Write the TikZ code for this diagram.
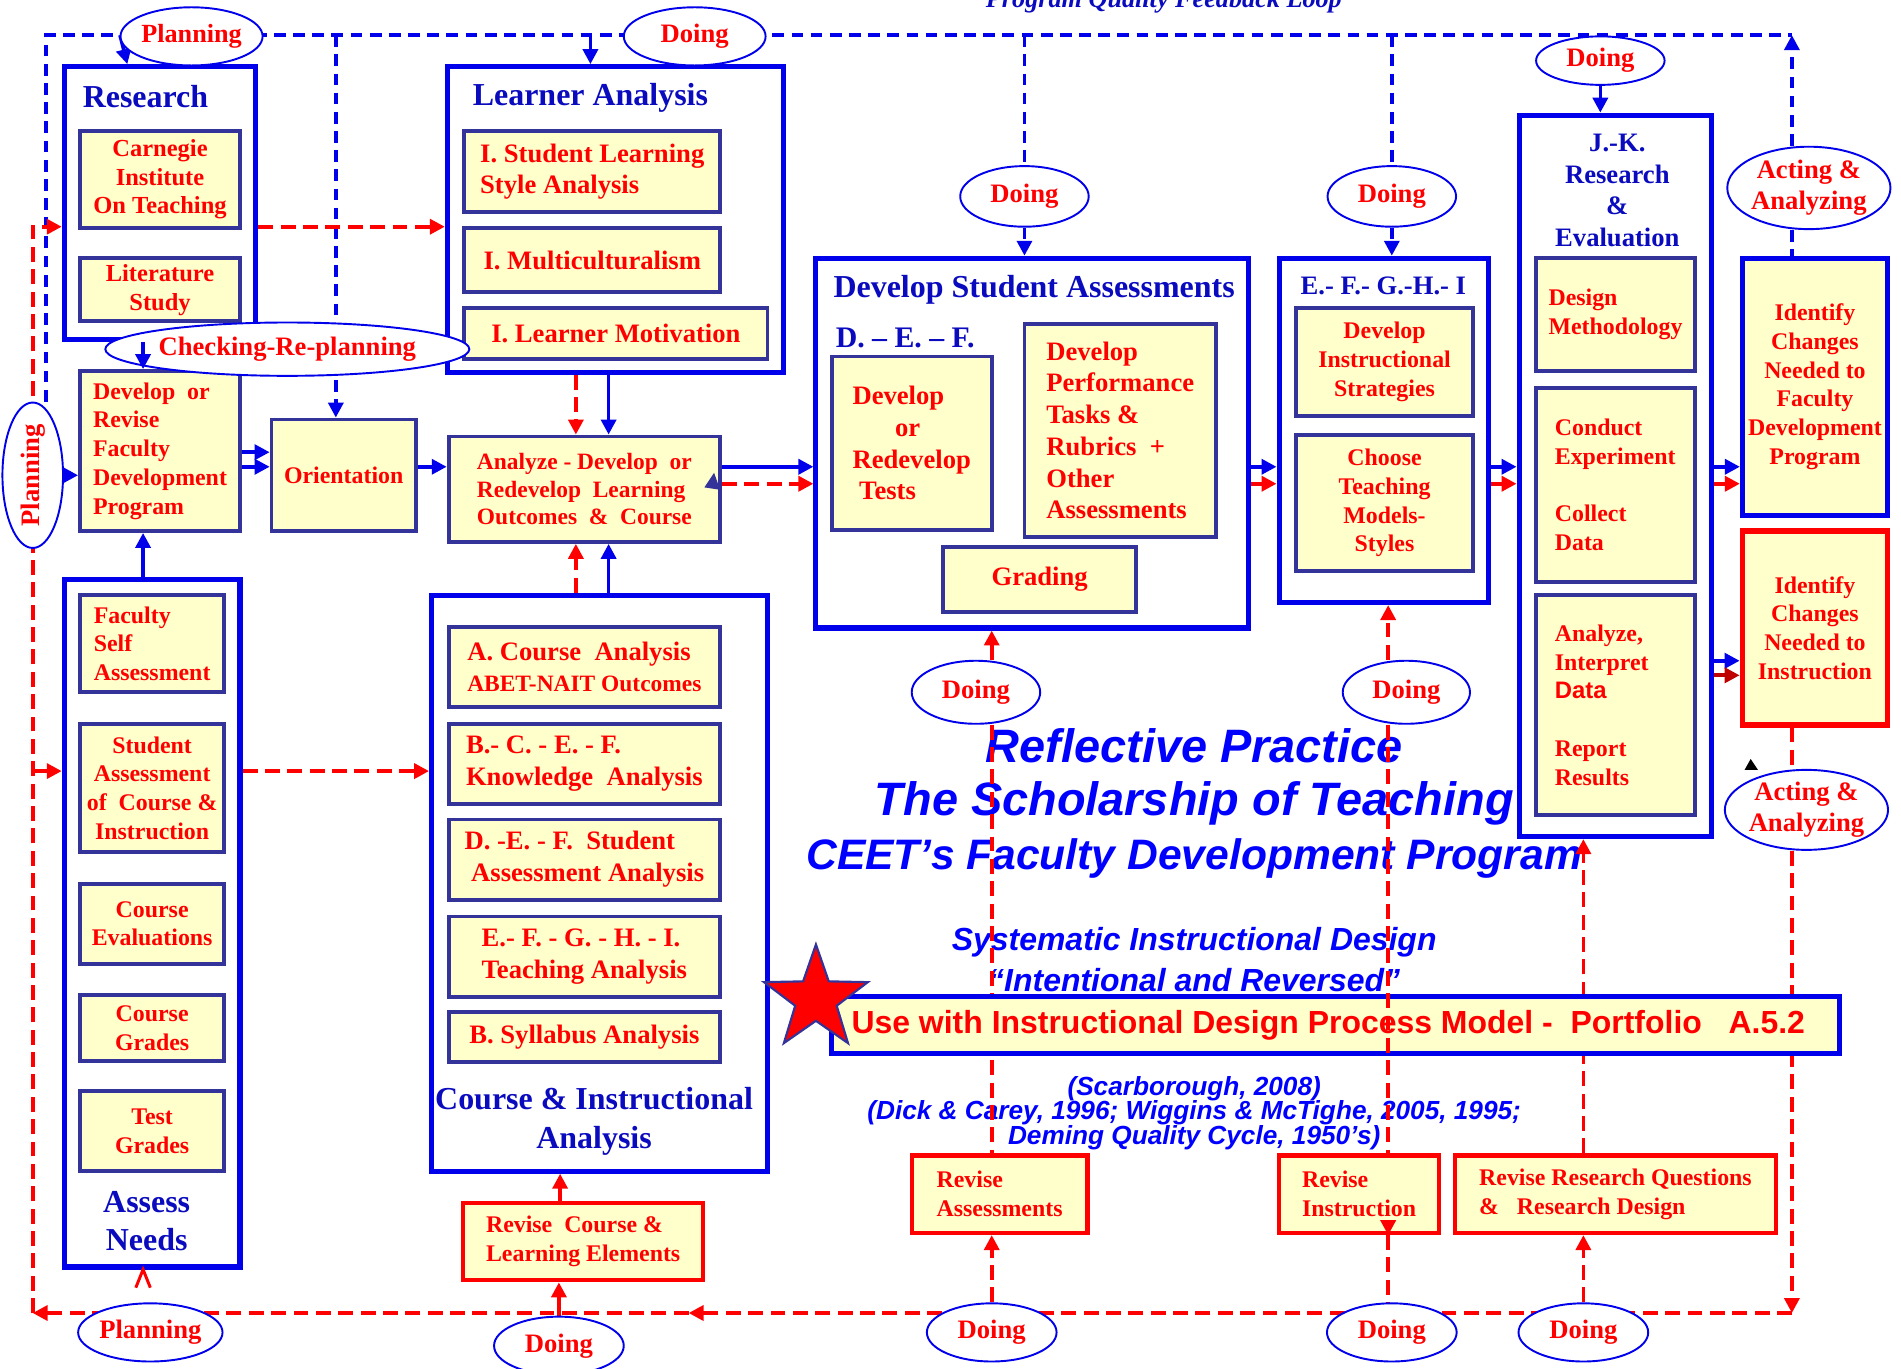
\documentclass[tikz,border=0pt]{standalone}
\usepackage{fontspec}
\setmainfont{Liberation Serif}
\setsansfont{Liberation Sans}
\usepackage{graphicx}
\usetikzlibrary{arrows.meta, shapes.geometric, backgrounds, calc}

\definecolor{lineblue}{RGB}{0,0,235}
\definecolor{textblue}{RGB}{10,10,190}
\definecolor{brightblue}{RGB}{0,0,255}
\definecolor{boxnavy}{RGB}{51,51,153}
\definecolor{paleyellow}{RGB}{255,255,204}
\definecolor{darkred}{RGB}{190,0,0}

\newcommand\fsz[2]{\bfseries\fontsize{#1}{#2}\selectfont}

\tikzset{
  corners/.style n args={4}{at={({(#1+#3)/2},{(#2+#4)/2})}, minimum width={(#3-#1)*0.02cm}, minimum height={(#4-#2)*0.02cm}},
  outerbox/.style={draw=lineblue, line width=2.4pt, fill=white, inner sep=0pt},
  subbox/.style={draw=boxnavy, line width=1.8pt, fill=paleyellow, text=red, inner sep=0pt, align=center, font=\fsz{11.2}{13.5}},
  revbox/.style={subbox, draw=red, line width=2pt},
  phase/.style={ellipse, draw=lineblue, line width=0.9pt, fill=white, text=red, inner sep=0pt, align=center, font=\fsz{12.5}{14.7}},
  boxtitle/.style={text=textblue, align=center, inner sep=0pt, font=\fsz{15}{18}},
  bline/.style={draw=lineblue, line width=1.7pt},
  rline/.style={draw=red, line width=1.7pt},
  bdash/.style={bline, dash pattern=on 5.5pt off 3.5pt},
  rdash/.style={rline, dash pattern=on 7pt off 3.5pt},
  bigtitle/.style={text=brightblue, inner sep=0pt, font=\sffamily\bfseries\itshape\fontsize{22}{26}\selectfont},
  reftext/.style={text=brightblue, align=center, inner sep=0pt, font=\sffamily\bfseries\itshape\fontsize{12.3}{11.5}\selectfont}
}

\begin{document}
\begin{tikzpicture}[x=0.02cm, y=-0.02cm, >={Triangle[length=7pt,width=7pt]}]
  \useasboundingbox (0,0) rectangle (1568,1129);

  % research column
  \node[outerbox, corners={53}{55}{211}{280}] (research) {};
  \node[boxtitle] (researchT) at (120,80) {Research};
  \node[subbox, font=\fsz{11.5}{13.4}, corners={66}{108}{198}{188}] (carnegie) {Carnegie\\Institute\\On Teaching};
  \node[subbox, font=\fsz{11.5}{13.6}, corners={66}{213}{198}{265}] (litstudy) {Literature\\Study};
  \node[subbox, align=left, corners={66}{306}{198}{438}] (devfdp) {Develop\ \ or\\Revise\\Faculty\\Development\\Program};
  \node[subbox, corners={224}{346}{343}{438}] (orient) {Orientation};

  % learner analysis
  \node[outerbox, corners={369}{55}{646}{307}] (learner) {};
  \node[boxtitle] (learnerT) at (487,81) {Learner Analysis};
  \node[subbox, align=left, font=\fsz{12.5}{14.7}, corners={383}{108}{594}{175}] (stylean) {I. Student Learning\\Style Analysis};
  \node[subbox, font=\fsz{12.5}{14.7}, corners={383}{188}{594}{241}] (multi) {I. Multiculturalism};
  \node[subbox, font=\fsz{12.5}{14.7}, corners={383}{254}{633}{296}] (motiv) {I. Learner Motivation};
  \node[subbox, align=left, font=\fsz{11}{13}, corners={370}{360}{594}{447}] (analyze) {Analyze - Develop\ \ or\\Redevelop\ \ Learning\\Outcomes\ \ \&\ \ Course};

  % assess needs
  \node[outerbox, corners={53}{478}{198}{1045}] (assess) {};
  \node[boxtitle, font=\fsz{15}{17.6}] (assessT) at (121,1007) {Assess\\Needs};
  \node[subbox, align=left, corners={66}{491}{185}{571}] (selfas) {Faculty\\Self\\Assessment};
  \node[subbox, corners={66}{597}{185}{703}] (stuas) {Student\\Assessment\\of\ \ Course \&\\Instruction};
  \node[subbox, corners={66}{729}{185}{795}] (ceval) {Course\\Evaluations};
  \node[subbox, corners={66}{821}{185}{875}] (cgrade) {Course\\Grades};
  \node[subbox, corners={66}{900}{185}{966}] (tgrade) {Test\\Grades};

  % course & instructional analysis
  \node[outerbox, corners={356}{491}{633}{966}] (cia) {};
  \node[boxtitle] (ciaT) at (490,925) {Course \& Instructional\\Analysis};
  \node[subbox, align=left, font=\fsz{12.5}{14.2}, corners={370}{517}{594}{583}] (coursean) {A. Course\ \ Analysis\\{\fontsize{11}{14.2}\selectfont ABET-NAIT Outcomes}};
  \node[subbox, align=left, font=\fsz{12.5}{15}, corners={370}{597}{594}{663}] (knowan) {B.- C. - E. - F.\\Knowledge\ \ Analysis};
  \node[subbox, align=left, font=\fsz{12.5}{15}, corners={370}{676}{594}{742}] (assan) {D. -E. - F.\ \ Student\\\ Assessment Analysis};
  \node[subbox, align=left, font=\fsz{12.5}{15}, corners={370}{756}{594}{822}] (teachan) {E.- F. - G. - H. - I.\\Teaching Analysis};
  \node[subbox, align=left, font=\fsz{12.5}{15}, corners={370}{835}{594}{876}] (sylan) {B. Syllabus Analysis};
  \node[revbox, align=left, corners={382}{992}{580}{1056}] (revcle) {Revise\ \ Course \&\\Learning Elements};

  % develop student assessments
  \node[outerbox, corners={673}{213}{1030}{518}] (dsa) {};
  \node[boxtitle] (dsaT) at (853,239) {Develop Student Assessments};
  \node[boxtitle, anchor=west, font=\fsz{14}{16}] (defT) at (689,279) {D. -- E. -- F.};
  \node[subbox, align=left, font=\fsz{12.5}{14.9}, corners={686}{294}{818}{437}] (devtests) {Develop\\\hspace{1.6em}or\\Redevelop\\\ Tests};
  \node[subbox, align=left, font=\fsz{12.5}{14.9}, corners={845}{267}{1003}{443}] (devperf) {Develop\\Performance\\Tasks \&\\Rubrics\ \ +\\Other\\Assessments};
  \node[subbox, font=\fsz{12.5}{14.9}, corners={778}{451}{937}{505}] (grading) {Grading};

  % E.-I.
  \node[outerbox, corners={1055}{213}{1228}{497}] (efghi) {};
  \node[boxtitle, font=\fsz{12.5}{15}] (efghiT) at (1141,236) {E.- F.- G.-H.- I};
  \node[subbox, corners={1069}{254}{1215}{343}] (instr) {Develop\\Instructional\\Strategies};
  \node[subbox, corners={1069}{359}{1215}{471}] (models) {Choose\\Teaching\\Models-\\Styles};

  % J.-K.
  \node[outerbox, corners={1253}{95}{1412}{690}] (jk) {};
  \node[boxtitle, font=\fsz{12.5}{14.9}] (jkT) at (1334,157) {J.-K.\\Research\\\&\\Evaluation};
  \node[subbox, align=left, corners={1267}{213}{1398}{306}] (method) {Design\\Methodology};
  \node[subbox, align=left, text width=2cm, corners={1267}{320}{1398}{480}] (experim) {Conduct\\Experiment\\[13.5pt]Collect\\Data};
  \node[subbox, align=left, text width=2cm, corners={1267}{491}{1398}{672}] (results) {Analyze,\\Interpret\\{\sffamily Data}\\[13.5pt]Report\\Results};

  % identify changes
  \node[subbox, draw=lineblue, line width=2.2pt, corners={1437}{213}{1557}{425}] (idfac) {Identify\\Changes\\Needed to\\Faculty\\Development\\Program};
  \node[revbox, line width=2.4pt, corners={1437}{438}{1557}{598}] (idins) {Identify\\Changes\\Needed to\\Instruction};

  % revise boxes
  \node[revbox, align=left, corners={752}{953}{897}{1017}] (revass) {Revise\\Assessments};
  \node[revbox, align=left, corners={1055}{953}{1187}{1017}] (revins) {Revise\\Instruction};
  \node[revbox, align=left, corners={1200}{953}{1465}{1017}] (revrq) {Revise Research Questions\\\&\ \ \ Research Design};

  % portfolio banner
  \node[subbox, draw=lineblue, line width=2.3pt, corners={686}{822}{1517}{869}] (usebox) {};
  \node[anchor=west, text=red, inner sep=0pt, font=\sffamily\bfseries\fontsize{15}{18}\selectfont] (usetext) at (702,846) {Use with Instructional Design Process Model -\ \ Portfolio\ \ \ A.5.2};
  \node[star, star points=5, star point ratio=2.5, minimum size=1.8cm, inner sep=0pt, fill=red, draw=boxnavy, line width=1pt] (star) at (673,824) {};

  % phase ellipses
  \node[phase, minimum width=2.1cm, minimum height=0.96cm, font=\fsz{12.3}{14}] (plan1) at (158,30) {Planning};
  \node[phase, minimum width=2.34cm, minimum height=0.96cm] (doing1) at (573,30) {Doing};
  \node[phase, minimum width=2.12cm, minimum height=1cm] (doing2) at (845,162) {Doing};
  \node[phase, minimum width=2.12cm, minimum height=1cm] (doing3) at (1148,162) {Doing};
  \node[phase, minimum width=2.12cm, minimum height=0.8cm] (doing4) at (1320,50) {Doing};
  \node[phase, minimum width=2.66cm, minimum height=1.36cm] (act1) at (1492,155) {Acting \&\\Analyzing};
  \node[phase, minimum width=5.3cm, minimum height=0.88cm] (check) at (237,288) {Checking-Re-planning};
  \node[phase, minimum width=1cm, minimum height=2.4cm] (plan2) at (27,392) {\rotatebox{90}{Planning}};
  \node[phase, minimum width=2.12cm, minimum height=1.04cm] (doing5) at (805,571) {Doing};
  \node[phase, minimum width=2.1cm, minimum height=1.04cm] (doing6) at (1160,571) {Doing};
  \node[phase, minimum width=2.62cm, minimum height=1.32cm] (act2) at (1490,668) {Acting \&\\Analyzing};
  \node[phase, minimum width=2.34cm, minimum height=0.96cm] (plan3) at (124,1099) {Planning};
  \node[phase, minimum width=2.14cm, minimum height=0.96cm] (doing7) at (461,1110) {Doing};
  \node[phase, minimum width=2.14cm, minimum height=0.96cm] (doing8) at (818,1099) {Doing};
  \node[phase, minimum width=2.14cm, minimum height=0.96cm] (doing9) at (1148,1099) {Doing};
  \node[phase, minimum width=2.14cm, minimum height=0.96cm] (doing10) at (1306,1099) {Doing};

  % rows and columns of the connectors
  \coordinate (rowTop) at (0,29);
  \coordinate (rowBot) at (0,1083);
  \coordinate (rowCar) at (0,187);
  \coordinate (rowSA) at (0,636);
  \coordinate (rowB) at (0,385);
  \coordinate (rowR) at (0,399);
  \coordinate (rowB2) at (0,373);
  \coordinate (rowG) at (0,491);
  \coordinate (rowI1) at (0,545);
  \coordinate (rowI2) at (0,557);
  \coordinate (colRL) at (27,0);
  \coordinate (colBL) at (38,0);
  \coordinate (colPl) at (99,0);
  \coordinate (colRes) at (105,0);
  \coordinate (colA) at (118,0);
  \coordinate (colV) at (277,0);
  \coordinate (colCIA) at (462,0);
  \coordinate (colR1) at (475,0);
  \coordinate (colLA) at (487,0);
  \coordinate (colB1) at (502,0);
  \coordinate (colT) at (726,0);
  \coordinate (colRA) at (818,0);
  \coordinate (colRI) at (1145,0);
  \coordinate (colRR) at (1306,0);
  \coordinate (colRt) at (1478,0);
  \coordinate (grR) at (990,455);
  \coordinate (midArr) at (568,1083);

  \begin{scope}[on background layer]
    % titles in the middle
    \node[bigtitle] (refl) at (985,615) {Reflective Practice};
    \node[bigtitle] (schol) at (985,663) {The Scholarship of Teaching};
    \node[bigtitle, font=\sffamily\bfseries\itshape\fontsize{20}{24}\selectfont] (ceet) at (985,708) {CEET’s Faculty Development Program};
    \node[bigtitle, font=\sffamily\bfseries\itshape\fontsize{15}{18}\selectfont] (sid) at (985,777) {Systematic Instructional Design};
    \node[bigtitle, font=\sffamily\bfseries\itshape\fontsize{15}{18}\selectfont] (intrev) at (985,808) {“Intentional and Reversed”};
    \node[reftext] (refs) at (985,918) {(Scarborough, 2008)\\(Dick \& Carey, 1996; Wiggins \& McTighe, 2005, 1995;\\Deming Quality Cycle, 1950’s)};
    \node[anchor=base, text=textblue, inner sep=0pt, font=\bfseries\itshape\fontsize{12.3}{14}\selectfont] (pqfl) at (960,6) {Program Quality Feedback Loop};

    % blue feedback loop
    \draw[bdash] (plan2.north -| colBL) -- (colBL |- rowTop) -- (colRt |- rowTop);
    \draw[bdash,->] (act1.north -| colRt) -- (colRt |- rowTop);
    \draw[bdash] (act1.south -| colRt) -- (idfac.north -| colRt);
    \draw[bline,->] (colPl |- rowTop) -- (research.north -| colRes);
    \draw[bline,->] (colLA |- rowTop) -- (learner.north -| colLA);
    \draw[bdash,->] (colV |- rowTop) -- (orient.north -| colV);
    \draw[bdash] (doing2.north |- rowTop) -- (doing2.north);
    \draw[bdash,->] (doing2.south) -- (dsa.north -| doing2.south);
    \draw[bdash] (doing3.north |- rowTop) -- (doing3.north);
    \draw[bdash,->] (doing3.south) -- (efghi.north -| doing3.south);
    \draw[bdash,->] (doing4.south) -- (jk.north -| doing4.south);

    % red loop on the left
    \draw[rdash,->] (colRL |- rowBot) -- (colRL |- rowCar) -- (research.west |- rowCar);
    \draw[rdash,->] (colRL |- rowSA) -- (assess.west |- rowSA);
    \draw[rdash,->] (research.east |- rowCar) -- (learner.west |- rowCar);
    \draw[rdash,->] (assess.east |- rowSA) -- (cia.west |- rowSA);

    % into the analyze box
    \draw[rdash,->] (learner.south -| colR1) -- (analyze.north -| colR1);
    \draw[bline,->] (learner.south -| colB1) -- (analyze.north -| colB1);
    \draw[rdash,->] (cia.north -| colR1) -- (analyze.south -| colR1);
    \draw[bline,->] (cia.north -| colB1) -- (analyze.south -| colB1);
    \draw[bline,->] (assess.north -| colA) -- (devfdp.south -| colA);
    \draw[rline,->] (revcle.north -| colCIA) -- (cia.south -| colCIA);
    \draw[rline,->] (doing7.north) -- (revcle.south -| doing7.north);

    % main row
    \draw[bline,->] (plan2.east) -- (devfdp.west |- plan2.east);
    \draw[bline,->] (devfdp.east |- rowB2) -- (orient.west |- rowB2);
    \draw[bline,->] (devfdp.east |- rowB) -- (orient.west |- rowB);
    \draw[bline,->] (orient.east |- rowB) -- (analyze.west |- rowB);
    \draw[bline,->] (analyze.east |- rowB) -- (dsa.west |- rowB);
    \draw[rdash,->] (analyze.east |- rowR) -- (dsa.west |- rowR);
    \draw[bline,->] (devtests.east |- rowB) -- (devperf.west |- rowB);
    \draw[rline,->] (devtests.east |- rowR) -- (devperf.west |- rowR);
    \draw[bline,->] (dsa.east |- rowB) -- (efghi.west |- rowB);
    \draw[rline,->] (dsa.east |- rowR) -- (efghi.west |- rowR);
    \draw[bline,->] (efghi.east |- rowB) -- (jk.west |- rowB);
    \draw[rline,->] (efghi.east |- rowR) -- (jk.west |- rowR);
    \draw[bline,->] (jk.east |- rowB) -- (idfac.west |- rowB);
    \draw[rline,->] (jk.east |- rowR) -- (idfac.west |- rowR);
    \draw[bline,->] (jk.east |- rowI1) -- (idins.west |- rowI1);
    \draw[rline, draw=darkred, ->] (jk.east |- rowI2) -- (idins.west |- rowI2);
    \draw[bline,->] (devtests.south -| colT) |- (grading.west |- rowG);
    \draw[bline,->] (grR) |- (grading.east |- rowG);

    % red doing lines
    \draw[rdash,->] (doing5.north -| colRA) -- (dsa.south -| colRA);
    \draw[rdash] (doing5.south -| colRA) -- (revass.north -| colRA);
    \draw[rdash,->] (doing8.north) -- (revass.south -| doing8.north);
    \draw[rdash,->] (doing6.north -| colRI) -- (efghi.south -| colRI);
    \draw[rdash] (revins.south -| colRI) -- (colRI |- rowBot);
    \draw[rdash,->] (revrq.north -| colRR) -- (jk.south -| colRR);
    \draw[rdash,->] (doing10.north) -- (revrq.south -| doing10.north);

    % red loop along the bottom
    \draw[rdash] (idins.south -| colRt) -- (act2.north -| colRt);
    \draw[rdash,->] (act2.south -| colRt) -- (colRt |- rowBot);
    \draw[rdash,->] (colRt |- rowBot) -- (midArr);
    \draw[rdash,->] (midArr) -- (colRL |- rowBot);
  \end{scope}

  % drawn over the boxes
  \draw[bline,->] (research.south -| colA) -- (devfdp.north -| colA);
  \draw[rdash] (doing6.south -| colRI) -- (revins.north -| colRI);
  \draw[rline,->] ($(revins.south -| colRI)+(0,-12)$) -- (revins.south -| colRI);
  \draw[rline, line width=1.4pt] ($(assess.south -| colA)+(-6,15)$) -- (assess.south -| colA) -- ($(assess.south -| colA)+(6,15)$);
  \fill[boxnavy] (581,402) -- (594,404) -- (589,390) -- cycle;
  \fill[black] (1439,635) -- (1450,635) -- (1444,626) -- cycle;
\end{tikzpicture}
\end{document}
